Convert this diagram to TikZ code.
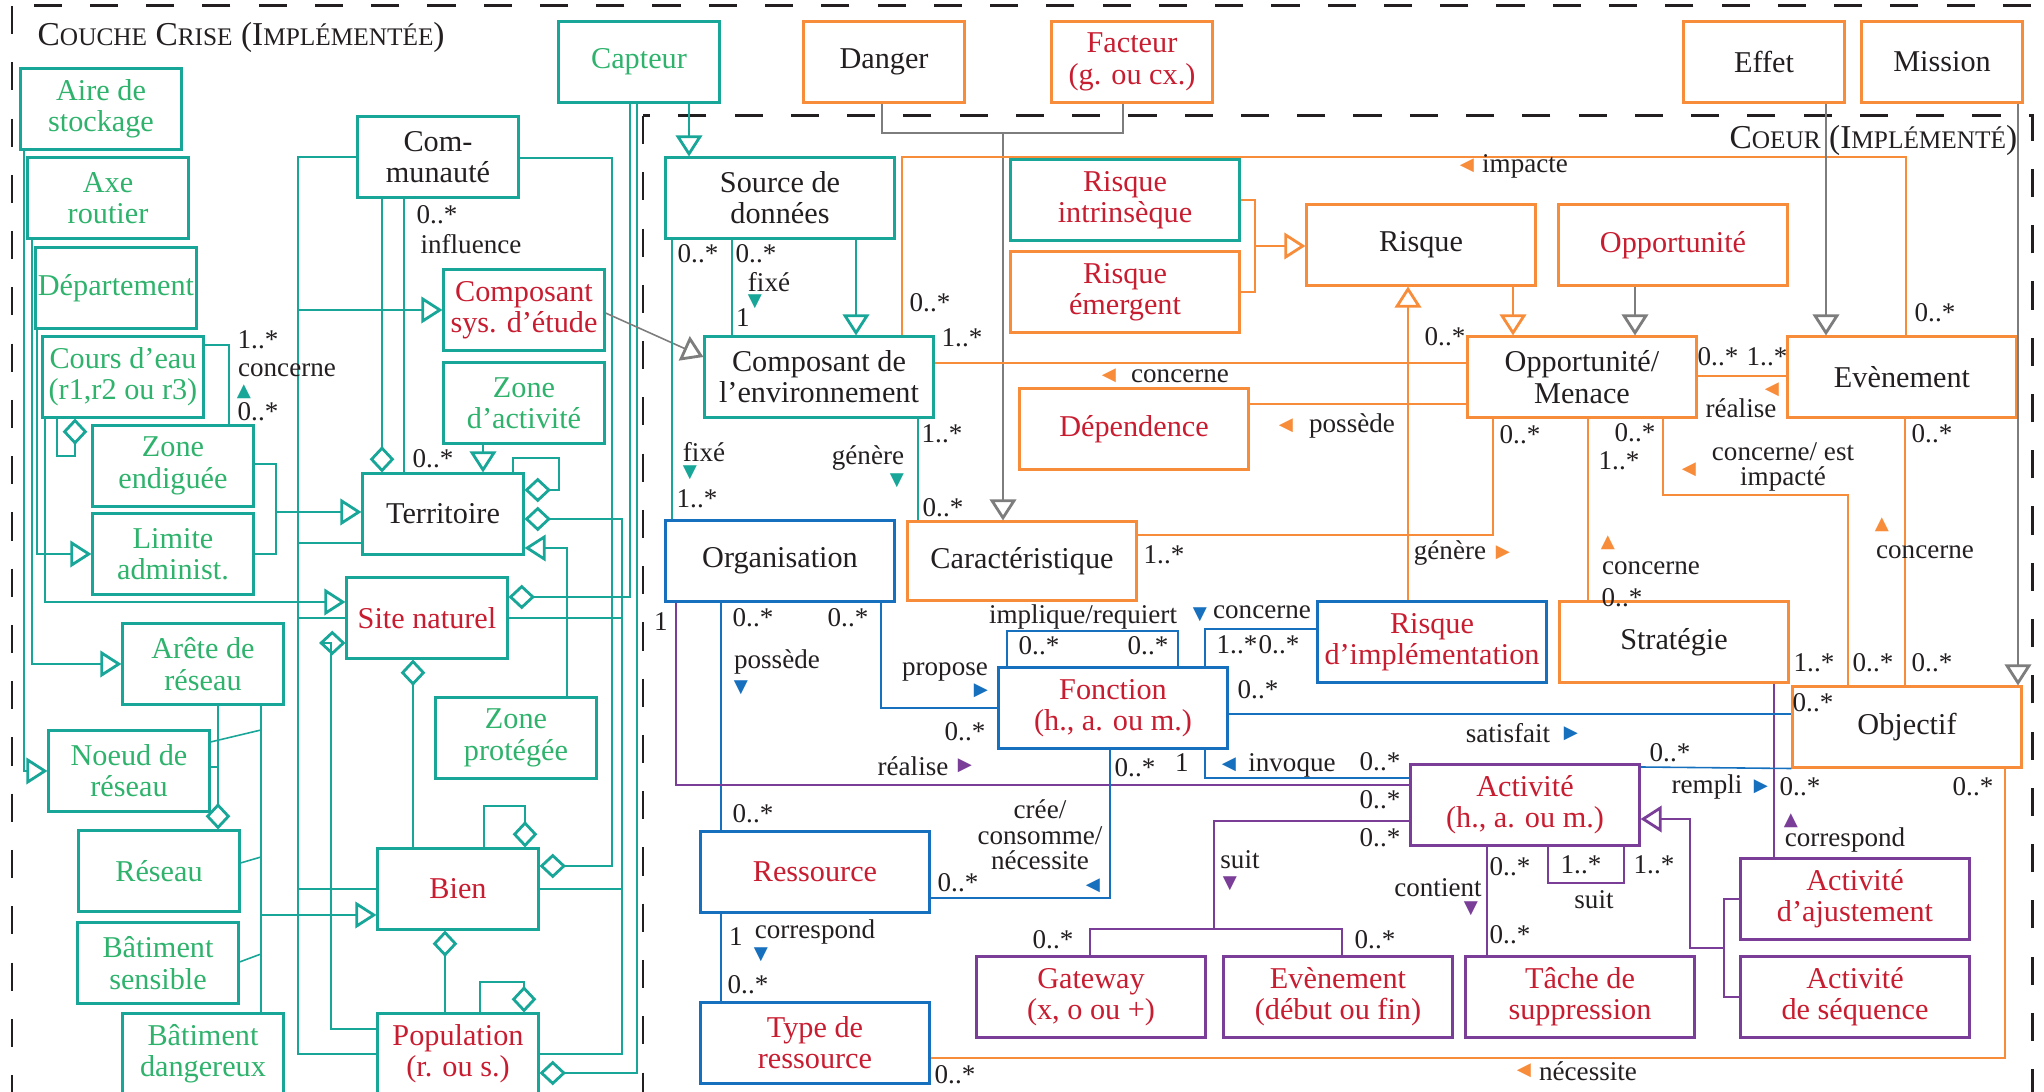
\documentclass[tikz,border=0pt]{standalone}
\usepackage{fontspec}
\setmainfont{Liberation Serif}
\newfontfamily\symb{DejaVu Sans}
\usetikzlibrary{arrows.meta}
\definecolor{cTeal}{RGB}{24,166,152}
\definecolor{cVert}{RGB}{46,178,108}
\definecolor{cRouge}{RGB}{200,28,48}
\definecolor{cOrange}{RGB}{247,141,59}
\definecolor{cBleu}{RGB}{22,112,190}
\definecolor{cViolet}{RGB}{122,62,152}
\definecolor{cGris}{RGB}{125,125,125}
\definecolor{cNoir}{RGB}{35,31,32}
\newcommand\petit[1]{{\fontsize{7.2}{10}\selectfont #1}}

\begin{document}
\begin{tikzpicture}[
    x=0.01cm, y=-0.01cm,
    classe/.style={draw, line width=0.85pt, minimum height=0.8cm, inner sep=0.5pt, align=center, text=cNoir, font=\fontsize{8.6}{8.9}\selectfont},
    boxn/.style={classe, minimum width=1.6cm},
    boxw/.style={classe, minimum width=2.28cm},
    tbox/.style={draw=cTeal}, obox/.style={draw=cOrange},
    bbox/.style={draw=cBleu}, pbox/.style={draw=cViolet},
    txtv/.style={text=cVert}, txtr/.style={text=cRouge},
    lien/.style={line width=0.45pt},
    tl/.style={lien, draw=cTeal}, ol/.style={lien, draw=cOrange},
    bl/.style={lien, draw=cBleu}, pl/.style={lien, draw=cViolet},
    gl/.style={lien, draw=cGris},
    gen/.style={-{Triangle[open, length=6pt, width=7.5pt, line width=0.8pt]}},
    agg/.style={{Diamond[open, length=7.5pt, width=7pt, line width=0.8pt]}-},
    mult/.style={inner sep=0, text=cNoir, font=\fontsize{7.7}{7.3}\selectfont},
    lbl/.style={mult, align=center},
    sens/.style={inner sep=0, font=\symb\fontsize{5.2}{5.2}\selectfont},
    cadre/.style={draw=cNoir, line width=0.85pt, dash pattern=on 8pt off 8pt}
]
\useasboundingbox (0,0) rectangle (2044,1092);
% Cadres
\draw[cadre] (12,6) rectangle (2100,1150);
\draw[cadre] (643,116) rectangle (2032,1150);
\node[anchor=west, inner sep=0, text=cNoir] (titrecrise) at (37,37) {\fontsize{9.5}{10}\selectfont C\petit{OUCHE} C\petit{RISE} (I\petit{MPLÉMENTÉE})};
\node[anchor=east, inner sep=0, text=cNoir] (titrecoeur) at (2018,140) {\fontsize{9.5}{10}\selectfont C\petit{OEUR} (I\petit{MPLÉMENTÉ})};

% Couche crise
\node[boxn, tbox, txtv] (aire) at (101,109) {Aire de\\stockage};
\node[boxn, tbox, txtv] (axe) at (108,198) {Axe\\routier};
\node[boxn, tbox, txtv] (dept) at (116,288) {Département};
\node[boxn, tbox, txtv] (cours) at (123,377) {Cours d'eau\\(r1,r2 ou r3)};
\node[boxn, tbox, txtv] (zendig) at (173,466) {Zone\\endiguée};
\node[boxn, tbox, txtv] (limite) at (173,554) {Limite\\administ.};
\node[boxn, tbox, txtv] (arete) at (203,664) {Arête de\\réseau};
\node[boxn, tbox, txtv] (noeud) at (129,771) {Noeud de\\réseau};
\node[boxn, tbox, txtv] (reseau) at (159,871) {Réseau};
\node[boxn, tbox, txtv] (batsens) at (158,963) {Bâtiment\\sensible};
\node[boxn, tbox, txtv] (batdang) at (203,1054) {Bâtiment\\dangereux};
\node[boxn, tbox] (communaute) at (438,157) {Com-\\munauté};
\node[boxn, tbox, txtr] (compsys) at (524,310) {Composant\\sys. d'étude};
\node[boxn, tbox, txtv] (zact) at (524,403) {Zone\\d'activité};
\node[boxn, tbox] (territoire) at (443,514) {Territoire};
\node[boxn, tbox, txtr] (site) at (427,618) {Site naturel};
\node[boxn, tbox, txtv] (zprot) at (516,738) {Zone\\protégée};
\node[boxn, tbox, txtr] (bien) at (458,889) {Bien};
\node[boxn, tbox, txtr] (population) at (458,1054) {Population\\(r. ou s.)};
\node[boxn, tbox, txtv] (capteur) at (639,62) {Capteur};

% Hors coeur
\node[boxn, obox] (danger) at (884,62) {Danger};
\node[boxn, obox, txtr] (facteur) at (1132,62) {Facteur\\(g. ou cx.)};
\node[boxn, obox] (effet) at (1764,62) {Effet};
\node[boxn, obox] (mission) at (1942,62) {Mission};

% Coeur
\node[boxw, tbox] (source) at (780,198) {Source de\\données};
\node[boxw, tbox] (compenv) at (819,377) {Composant de\\l'environnement};
\node[boxw, tbox, txtr] (rintr) at (1125,200) {Risque\\intrinsèque};
\node[boxw, obox, txtr] (remerg) at (1125,292) {Risque\\émergent};
\node[boxw, obox] (risque) at (1421,245) {Risque};
\node[boxw, obox, txtr] (oppo) at (1673,245) {Opportunité};
\node[boxw, obox] (om) at (1582,377) {Opportunité/\\Menace};
\node[boxw, obox] (evt) at (1902,377) {Evènement};
\node[boxw, obox, txtr] (dep) at (1134,429) {Dépendence};
\node[boxw, obox, minimum height=0.78cm] (carac) at (1022,561) {Caractéristique};
\node[boxw, bbox] (org) at (780,561) {Organisation};
\node[boxw, bbox, txtr] (rimpl) at (1432,642) {Risque\\d'implémentation};
\node[boxw, obox] (strat) at (1674,642) {Stratégie};
\node[boxw, bbox, txtr] (fonction) at (1113,708) {Fonction\\(h., a. ou m.)};
\node[boxw, obox] (objectif) at (1907,727) {Objectif};
\node[boxw, pbox, txtr] (activite) at (1525,805) {Activité\\(h., a. ou m.)};
\node[boxw, bbox, txtr] (ressource) at (815,872) {Ressource};
\node[boxw, bbox, txtr] (typeres) at (815,1043) {Type de\\ressource};
\node[boxw, pbox, txtr] (gateway) at (1091,997) {Gateway\\(x, o ou +)};
\node[boxw, pbox, txtr] (evdeb) at (1338,997) {Evènement\\(début ou fin)};
\node[boxw, pbox, txtr] (tache) at (1580,997) {Tâche de\\suppression};
\node[boxw, pbox, txtr] (actaj) at (1855,899) {Activité\\d'ajustement};
\node[boxw, pbox, txtr] (actseq) at (1855,997) {Activité\\de séquence};

% Liens couche crise
\coordinate (jz) at (276,512);
\coordinate (jc) at (298,310);
\draw[tl,gen] (aire.south -| 24,0) |- (noeud.west);
\draw[tl,gen] (axe.south -| 32,0) |- (arete.west);
\draw[tl,gen] (dept.south -| 37,0) |- (limite.west);
\draw[tl,gen] (cours.south -| 45,0) |- (site.west |- 0,602);
\draw[tl,agg] (cours.south -| 75,0) -- (75,456) -| (cours.south -| 57,0);
\draw[tl] (cours.east |- 0,345) -| (zendig.north -| 229,0);
\draw[tl] (zendig.east |- 0,464) -| (jz);
\draw[tl] (limite.east) -| (jz);
\draw[tl,gen] (jz) -- (territoire.west |- jz);
\draw[tl,gen] (communaute.west) -| (jc) -- (compsys.west);
\draw[tl] (population.west) -| (jc);
\draw[tl] (territoire.west |- 0,543) -- (jc |- 0,543);
\draw[tl] (site.west) -- (site.west -| jc);
\draw[tl] (bien.west) -- (bien.west -| jc);
\draw[tl,agg] (territoire.north -| 382,0) -- (communaute.south -| 382,0);
\draw[tl] (communaute.south -| 404,0) -- (territoire.north -| 404,0);
\draw[tl,gen] (zact.south -| 483,0) -- (territoire.north -| 483,0);
\draw[tl,agg] (territoire.east |- 0,490) -| (559,458) -| (territoire.north -| 513,0);
\draw[tl,agg] (territoire.east |- 0,519) -| (population.east -| 622,0) -- (population.east);
\draw[tl] (site.east) -- (site.east -| 622,0);
\draw[tl] (bien.east) -- (bien.east -| 622,0);
\draw[tl,gen] (zprot.north -| 567,0) |- (territoire.east |- 0,548);
\draw[tl,agg] (bien.east |- 0,866) -| (612,158) -- (communaute.east |- 0,158);
\draw[tl,agg] (site.east |- 0,597) -| (capteur.south -| 630,0);
\draw[tl,agg] (population.east |- 0,1073) -| (capteur.south -| 637,0);
\draw[tl,agg] (site.south -| 413,0) -- (bien.north -| 413,0);
\draw[tl,agg] (site.west |- 0,643) -| (331,1029) -- (population.west |- 0,1029);
\draw[tl,agg] (bien.south -| 445,0) -- (population.north -| 445,0);
\draw[tl,agg] (bien.north -| 525,0) -- (525,806) -| (bien.north -| 484,0);
\draw[tl,agg] (population.north -| 524,0) -- (524,982) -| (population.north -| 480,0);
\draw[tl,agg] (reseau.north -| 218,0) -- (arete.south -| 218,0);
\draw[tl] (noeud.east |- 0,767) -- (218,767);
\draw[tl] (arete.south -| 261,0) -- (261,915);
\draw[tl,gen] (batdang.north -| 261,0) |- (bien.west |- 0,915);
\draw[tl] (noeud.east |- 0,742) -- (261,730);
\draw[tl] (reseau.east |- 0,863) -- (261,857);
\draw[tl] (batsens.east |- 0,962) -- (261,954);
\draw[tl,gen] (capteur.south -| 689,0) -- (source.north -| 689,0);

% Liens coeur
\coordinate (jd) at (1003,133);
\coordinate (jr) at (1255,246);
\coordinate (ja) at (1724,948);
\draw[gl,gen] (compsys.east |- 0,313) -- (compenv.west |- 0,357);
\draw[tl,gen] (source.south -| 856,0) -- (compenv.north -| 856,0);
\draw[tl] (source.south -| 732,0) -- (compenv.north -| 732,0);
\draw[tl] (source.south -| 672,0) -- (org.north -| 672,0);
\draw[tl] (compenv.south -| 918,0) -- (carac.north -| 918,0);
\draw[gl] (danger.south -| 882,0) |- (jd);
\draw[gl] (facteur.south -| 1123,0) |- (jd);
\draw[gl,gen] (jd) -- (carac.north -| jd);
\draw[ol] (compenv.north -| 902,0) |- (1906,157) -- (evt.north -| 1906,0);
\draw[ol] (compenv.east |- 0,363) -- (om.west |- 0,363);
\draw[ol] (dep.east |- 0,404) -- (om.west |- 0,404);
\draw[ol] (rintr.east) -| (jr);
\draw[ol] (remerg.east) -| (jr);
\draw[ol,gen] (jr) -- (risque.west |- jr);
\draw[ol,gen] (risque.south -| 1513,0) -- (om.north -| 1513,0);
\draw[gl,gen] (oppo.south -| 1635,0) -- (om.north -| 1635,0);
\draw[ol,gen] (rimpl.north -| 1408,0) -- (risque.south -| 1408,0);
\draw[ol] (carac.east |- 0,535) -| (om.south -| 1493,0);
\draw[ol] (om.east |- 0,376) -- (evt.west |- 0,376);
\draw[ol] (om.south -| 1588,0) -- (strat.north -| 1588,0);
\draw[ol] (om.south -| 1663,0) |- (1848,495) -- (objectif.north -| 1848,0);
\draw[ol] (evt.south -| 1905,0) -- (objectif.north -| 1905,0);
\draw[gl,gen] (effet.south -| 1826,0) -- (evt.north -| 1826,0);
\draw[gl,gen] (mission.south -| 2018,0) -- (objectif.north -| 2018,0);
\draw[pl] (strat.south -| 1774,0) -- (actaj.north -| 1774,0);
\draw[bl] (org.south -| 721,0) -- (ressource.north -| 721,0);
\draw[bl] (org.south -| 881,0) |- (fonction.west);
\draw[pl] (org.south -| 676,0) |- (activite.west |- 0,785);
\draw[bl] (fonction.north -| 1007,0) |- (1178,631) -- (fonction.north -| 1178,0);
\draw[bl] (fonction.north -| 1205,0) |- (rimpl.west |- 0,629);
\draw[bl] (fonction.east |- 0,714) -- (objectif.west |- 0,714);
\draw[bl] (fonction.south -| 1205,0) |- (activite.west |- 0,778);
\draw[bl] (fonction.south -| 1110,0) |- (ressource.east |- 0,898);
\draw[bl] (ressource.south -| 721,0) -- (typeres.north -| 721,0);
\draw[ol] (typeres.east |- 0,1058) -| (objectif.south -| 2005,0);
\draw[bl] (activite.east |- 0,767) -- (objectif.south west);
\draw[pl] (activite.south -| 1548,0) |- (1624,883) -- (activite.south -| 1624,0);
\draw[pl] (activite.south -| 1487,0) -- (tache.north -| 1487,0);
\draw[pl] (activite.west |- 0,821) -| (1214,929);
\draw[pl] (gateway.north -| 1090,0) |- (1342,929) -- (evdeb.north -| 1342,0);
\draw[pl] (actaj.west) -| (ja);
\draw[pl] (actseq.west) -| (ja);
\draw[pl,gen] (ja) -| (1690,819) -- (activite.east |- 0,819);

% Multiplicites
\foreach \x/\y/\m [count=\i] in {258/340/1..*, 258/412/0..*, 437/215/0..*, 433/459/0..*,
    698/254/0..*, 756/254/0..*, 743/318/1, 930/303/0..*, 962/338/1..*, 1445/337/0..*,
    1935/313/0..*, 1718/357/0..*, 1767/357/1..*, 697/499/1..*, 942/434/1..*, 943/508/0..*,
    1164/555/1..*, 1520/435/0..*, 1635/433/0..*, 1619/461/1..*, 1622/598/0..*, 1932/434/0..*,
    1814/663/1..*, 1873/663/0..*, 1932/663/0..*, 1813/703/0..*, 661/622/1, 753/618/0..*,
    848/618/0..*, 965/732/0..*, 753/814/0..*, 1039/646/0..*, 1148/646/0..*, 1237/645/1..*,
    1279/645/0..*, 1258/690/0..*, 1135/768/0..*, 1182/763/1, 1380/762/0..*, 1380/800/0..*,
    1380/838/0..*, 958/883/0..*, 736/937/1, 748/985/0..*, 955/1075/0..*, 1670/753/0..*,
    1800/787/0..*, 1973/787/0..*, 1581/865/1..*, 1654/865/1..*, 1510/867/0..*, 1510/935/0..*,
    1053/940/0..*, 1375/940/0..*}
    \node[mult] (m\i) at (\x,\y) {\m};

% Sens de lecture
\foreach \x/\y/\c/\g [count=\i] in {244/392/cTeal/▲, 755/302/cTeal/▼, 690/473/cTeal/▼, 897/481/cTeal/▼,
    1467/166/cOrange/◀, 1109/376/cOrange/◀, 1286/426/cOrange/◀, 1503/553/cOrange/▶,
    1772/390/cOrange/◀, 1689/470/cOrange/◀, 1608/543/cOrange/▲, 1882/525/cOrange/▲,
    1524/1071/cOrange/◀, 741/688/cBleu/▼, 981/691/cBleu/▶, 1200/615/cBleu/▼, 1571/734/cBleu/▶,
    1229/765/cBleu/◀, 1093/886/cBleu/◀, 761/955/cBleu/▼, 1761/787/cBleu/▶,
    965/766/cViolet/▶, 1791/821/cViolet/▲, 1471/909/cViolet/▼, 1230/884/cViolet/▼}
    \node[sens, text=\c] (s\i) at (\x,\y) {\g};

% Roles
\node[lbl] (l-influence) at (471,244) {influence};
\node[lbl] (l-concerne1) at (287,370) {concerne};
\node[lbl] (l-fixe1) at (769,282) {fixé};
\node[lbl] (l-fixe2) at (704,452) {fixé};
\node[lbl] (l-genere1) at (868,458) {génère};
\node[lbl] (l-impacte) at (1525,166) {impacte};
\node[lbl] (l-concerne2) at (1180,376) {concerne};
\node[lbl] (l-possede1) at (1352,426) {possède};
\node[lbl] (l-genere2) at (1450,553) {génère};
\node[lbl] (l-realise1) at (1741,408) {réalise};
\node[lbl] (l-concest) at (1783,467) {concerne/ est\\impacté};
\node[lbl] (l-concerne3) at (1651,568) {concerne};
\node[lbl] (l-concerne4) at (1925,552) {concerne};
\node[lbl] (l-possede2) at (777,662) {possède};
\node[lbl] (l-propose) at (945,672) {propose};
\node[lbl] (l-realise2) at (913,766) {réalise};
\node[lbl] (l-implique) at (1083,617) {implique/requiert};
\node[lbl] (l-concerne5) at (1262,612) {concerne};
\node[lbl] (l-satisfait) at (1508,733) {satisfait};
\node[lbl] (l-invoque) at (1292,765) {invoque};
\node[lbl] (l-cree) at (1040,835) {crée/\\consomme/\\nécessite};
\node[lbl] (l-correspond1) at (815,932) {correspond};
\node[lbl] (l-necessite) at (1588,1071) {nécessite};
\node[lbl] (l-rempli) at (1707,787) {rempli};
\node[lbl] (l-correspond2) at (1845,840) {correspond};
\node[lbl] (l-suit1) at (1594,900) {suit};
\node[lbl] (l-contient) at (1438,888) {contient};
\node[lbl] (l-suit2) at (1240,860) {suit};
\end{tikzpicture}
\end{document}
